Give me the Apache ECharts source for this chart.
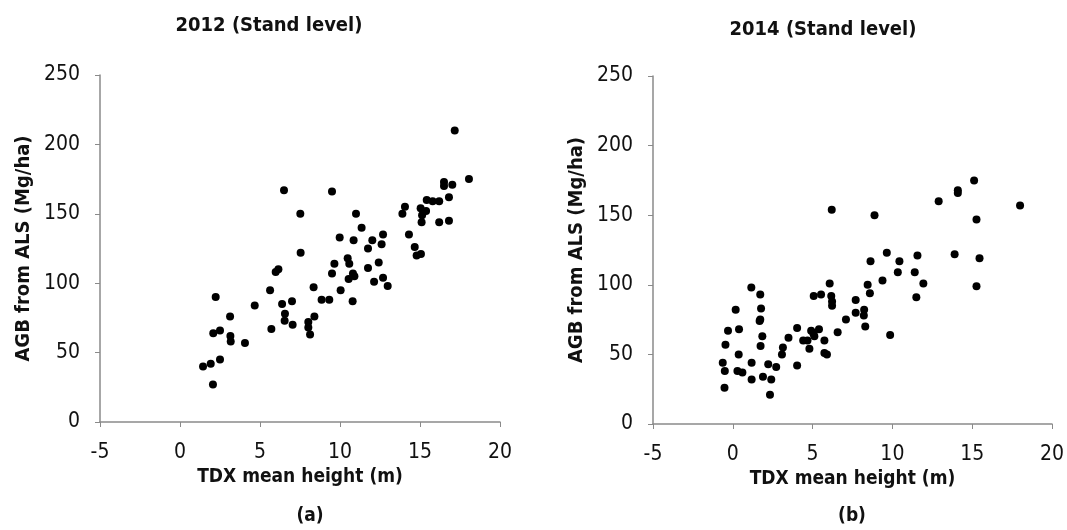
<!DOCTYPE html>
<html>
<head>
<meta charset="utf-8">
<script src="https://cdn.jsdelivr.net/npm/echarts@6/dist/echarts.min.js"></script>
<style>
  html, body { margin: 0; padding: 0; background: #fff; }
  #chart { width: 1067px; height: 530px; }
</style>
</head>
<body>
<div id="chart"></div>
<script>
// 2012 stand level: TDX mean height (m) vs AGB (Mg/ha)
var x2012 = [6.5, 7.52, 7.54, 5.98, 6.15, 5.63, 2.23, 4.67, 6.38, 7.0, 6.56, 6.54, 7.04, 5.71, 3.13, 2.5, 2.08, 3.15, 3.17, 4.06, 2.5, 1.92, 1.44, 2.06,
  17.17, 18.06, 16.5, 16.5, 17.02, 16.81, 16.2, 15.79, 15.42, 15.38, 15.04, 15.13, 15.1, 16.2, 16.81, 14.06, 13.9, 14.31, 14.67, 14.79, 15.06,
  9.5, 11.0, 11.35, 9.98, 10.85, 12.69, 12.02, 12.6, 11.75, 12.42, 11.75, 10.48, 10.58, 9.65, 9.5, 10.81, 10.9, 10.54, 12.69, 12.98, 12.13,
  10.04, 10.79, 8.35, 8.85, 9.33, 8.4, 8.02, 8.02, 8.13];
var y2012 = [167, 150, 122, 108, 110, 95, 90, 84, 85, 87, 78, 73, 70, 67, 76, 66, 64, 62, 58, 57, 45, 42, 40, 27,
  210, 175, 173, 170, 171, 162, 159, 159, 160, 152, 154, 149, 144, 144, 145, 155, 150, 135, 126, 120, 121,
  166, 150, 140, 133, 131, 135, 131, 128, 125, 115, 111, 118, 114, 114, 107, 107, 105, 103, 104, 98, 101,
  95, 87, 97, 88, 88, 76, 72, 68, 63];

// 2014 stand level
var x2014 = [6.2, 1.16, 1.72, 0.18, 1.77, 1.72, 1.68, -0.3, 0.39, -0.46, 0.37, 1.85, 1.74, -0.63, -0.5, 0.29, 0.6, 1.18, 1.18, -0.52,
  1.89, 2.22, 2.41, 2.33, 2.72, 3.08, 3.14, 3.49, 4.03, 4.03, 4.41, 4.68, 4.8, 4.91, 5.05, 5.11, 5.4, 5.07, 5.53, 5.74, 5.74, 5.9,
  6.07, 6.17, 6.22, 6.22, 6.57, 7.09, 7.7, 7.7,
  15.12, 14.1, 14.1, 12.9, 18.0, 15.27, 8.88, 9.65, 8.63, 10.44, 11.57, 13.9, 15.46, 10.34, 11.4, 9.38, 11.94, 8.45, 8.59, 15.27,
  11.5, 8.23, 8.21, 8.3, 9.86];
var y2014 = [154, 98, 93, 82, 83, 75, 74, 67, 68, 57, 50, 63, 56, 44, 38, 38, 37, 44, 32, 26,
  34, 43, 32, 21, 41, 50, 55, 62, 69, 42, 60, 60, 54, 67, 65, 63, 68, 92, 93, 60, 51, 50,
  101, 92, 88, 85, 66, 75, 89, 80,
  175, 168, 166, 160, 157, 147, 150, 123, 117, 117, 121, 122, 119, 109, 109, 103, 101, 100, 94, 99,
  91, 82, 78, 70, 64];

var xTicks = [-5, 0, 5, 10, 15, 20];
var yTicks = [0, 50, 100, 150, 200, 250];

var FONT = "'Liberation Sans Narrow', 'DejaVu Sans Condensed', sans-serif";
var AXIS_COLOR = '#8a8a8a';
var TEXT = '#111';

function pairs(xs, ys) {
  return xs.map(function(x, i) { return [x, ys[i]]; });
}

function xAxisOpt(idx) {
  return {
    type: 'value',
    gridIndex: idx,
    min: xTicks[0],
    max: xTicks[xTicks.length - 1],
    interval: 5,
    name: 'TDX mean height (m)',
    nameLocation: 'middle',
    nameGap: 46,
    nameTextStyle: { fontFamily: FONT, fontWeight: 'bold', fontSize: 19, color: TEXT },
    axisLine: { onZero: false, lineStyle: { color: AXIS_COLOR, width: 1.5 } },
    axisTick: { show: true, length: 5, lineStyle: { color: AXIS_COLOR } },
    axisLabel: { fontFamily: FONT, fontSize: 21, color: TEXT, margin: 20 },
    splitLine: { show: false }
  };
}

function yAxisOpt(idx) {
  return {
    type: 'value',
    gridIndex: idx,
    min: yTicks[0],
    max: yTicks[yTicks.length - 1],
    interval: 50,
    name: 'AGB from ALS (Mg/ha)',
    nameLocation: 'middle',
    nameGap: 66,
    nameTextStyle: { fontFamily: FONT, fontWeight: 'bold', fontSize: 20, color: TEXT },
    axisLine: { show: true, onZero: false, lineStyle: { color: AXIS_COLOR, width: 1.5 } },
    axisTick: { show: true, length: 5, lineStyle: { color: AXIS_COLOR } },
    axisLabel: { fontFamily: FONT, fontSize: 21, color: TEXT, margin: 20 },
    splitLine: { show: false }
  };
}

var myChart = echarts.init(document.getElementById('chart'));
myChart.setOption({
  animation: false,
  backgroundColor: '#fff',
  title: [
    { text: '2012 (Stand level)', left: 264, top: 11, textAlign: 'center',
      textStyle: { fontFamily: FONT, fontWeight: 'bold', fontSize: 20, color: TEXT } },
    { text: '2014 (Stand level)', left: 818, top: 15, textAlign: 'center',
      textStyle: { fontFamily: FONT, fontWeight: 'bold', fontSize: 20, color: TEXT } },
    { text: '(a)', left: 305, top: 502, textAlign: 'center',
      textStyle: { fontFamily: FONT, fontWeight: 'bold', fontSize: 19, color: TEXT } },
    { text: '(b)', left: 847, top: 502, textAlign: 'center',
      textStyle: { fontFamily: FONT, fontWeight: 'bold', fontSize: 19, color: TEXT } }
  ],
  grid: [
    { left: 100, top: 75, width: 400, height: 347 },
    { left: 653, top: 76, width: 400, height: 348 }
  ],
  xAxis: [xAxisOpt(0), xAxisOpt(1)],
  yAxis: [yAxisOpt(0), yAxisOpt(1)],
  series: [
    {
      type: 'scatter', xAxisIndex: 0, yAxisIndex: 0,
      symbol: 'circle', symbolSize: 8,
      itemStyle: { color: '#000', opacity: 1 },
      data: pairs(x2012, y2012)
    },
    {
      type: 'scatter', xAxisIndex: 1, yAxisIndex: 1,
      symbol: 'circle', symbolSize: 8,
      itemStyle: { color: '#000', opacity: 1 },
      data: pairs(x2014, y2014)
    }
  ]
});
</script>
</body>
</html>
